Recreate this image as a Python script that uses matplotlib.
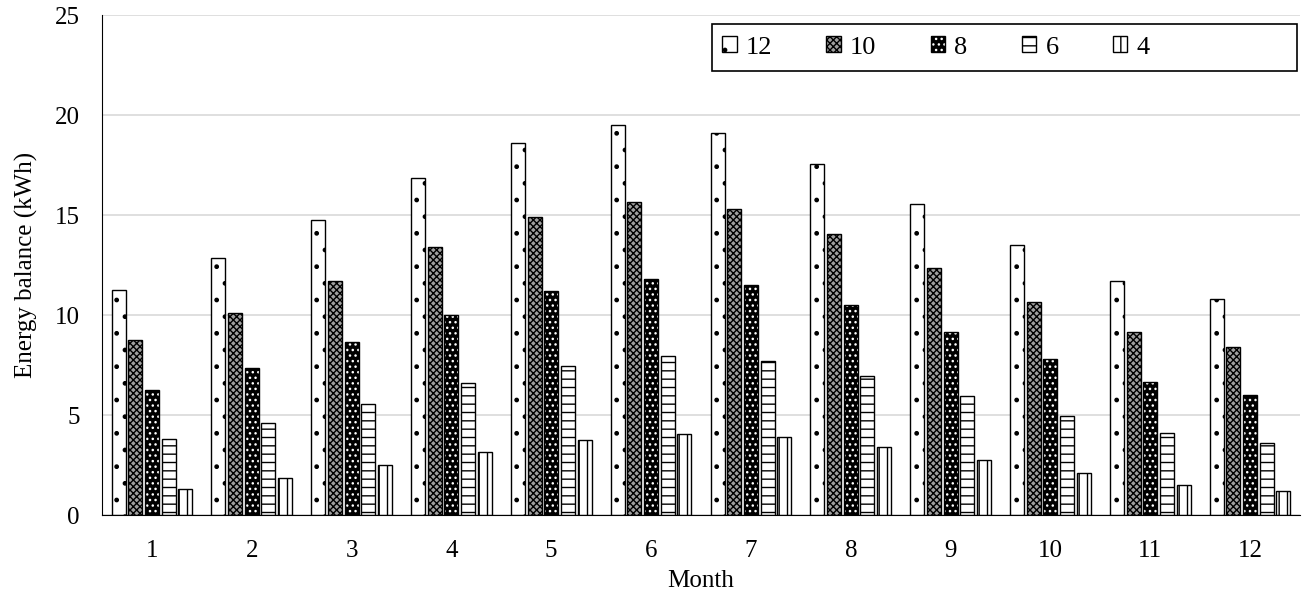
import matplotlib
matplotlib.use("Agg")
import matplotlib.pyplot as plt
from matplotlib.patches import Patch, Rectangle
import numpy as np

plt.rcParams['font.family'] = ['Liberation Serif', 'DejaVu Serif']
plt.rcParams['hatch.linewidth'] = 1.0

# Monatswerte der Energiebilanz (kWh) je Serie
months = [1, 2, 3, 4, 5, 6, 7, 8, 9, 10, 11, 12]
series_names = ["12", "10", "8", "6", "4"]
s12 = [11.25, 12.85, 14.75, 16.85, 18.6, 19.5, 19.1, 17.55, 15.55, 13.5, 11.7, 10.8]
s10 = [8.75, 10.1, 11.7, 13.4, 14.9, 15.65, 15.3, 14.05, 12.35, 10.65, 9.15, 8.4]
s8 = [6.25, 7.35, 8.65, 10.0, 11.2, 11.8, 11.5, 10.5, 9.15, 7.8, 6.65, 6.0]
s6 = [3.8, 4.6, 5.55, 6.6, 7.45, 7.95, 7.7, 6.95, 5.95, 4.95, 4.1, 3.6]
s4 = [1.3, 1.85, 2.5, 3.15, 3.75, 4.05, 3.9, 3.4, 2.75, 2.1, 1.5, 1.2]
values = [s12, s10, s8, s6, s4]

# (Fuellfarbe, Schraffurfarbe, Schraffur)
styles = [
    ("white", "black", "."),
    ("#a0a0a0", "black", "xxxxx"),
    ("black", "white", "..."),
    ("white", "black", "--"),
    ("white", "black", "||"),
]

fig = plt.figure(figsize=(13.09, 6), dpi=100)
ax = fig.add_axes([102/1309, 1-515/600, 1198/1309, 500/600])

x = np.array(months)
step = 0.167
width = 0.14
handles = []
for k, (vals, (fc, hc, h)) in enumerate(zip(values, styles)):
    pos = x + (k - 2) * step
    ax.bar(pos, vals, width, color=fc, edgecolor=hc, hatch=h, linewidth=0, zorder=2)
    ax.bar(pos, vals, width, fill=False, edgecolor="black", linewidth=1.0, zorder=3)
    handles.append((Patch(facecolor=fc, edgecolor=hc, hatch=h, linewidth=0),
                    Patch(fill=False, edgecolor="black", linewidth=1.0)))

ax.set_xlim(0.5, 12.5)
ax.set_ylim(0, 25)
ax.set_yticks([0, 5, 10, 15, 20, 25])
ax.set_xticks(months)
ax.tick_params(axis='both', length=0, labelsize=18, pad=16)
ax.tick_params(axis='x', pad=18)
ax.yaxis.grid(True, color="#d9d9d9", linewidth=1.2, zorder=0)
ax.set_axisbelow(True)
for sp in ["top", "right"]:
    ax.spines[sp].set_visible(False)
ax.spines["left"].set_color("black")
ax.spines["bottom"].set_color("black")

ax.set_xlabel("Month", fontsize=18, labelpad=6)
ax.set_ylabel("Energy balance (kWh)", fontsize=18, labelpad=12)

# Legendenrahmen breiter als der Inhalt (wie im Original)
fig.patches.append(Rectangle((712/1309, 1-71/600), 585/1309, 47/600,
                             transform=fig.transFigure, fill=False,
                             edgecolor="black", linewidth=1.2))
leg = fig.legend(handles, series_names, loc="center left",
                 bbox_to_anchor=(722/1309, 1-47.5/600),
                 ncol=5, fontsize=19, frameon=False,
                 handlelength=0.55, handleheight=0.55, handletextpad=0.35,
                 columnspacing=2.05, borderaxespad=0, borderpad=0)

fig.savefig("out.png", dpi=100)
